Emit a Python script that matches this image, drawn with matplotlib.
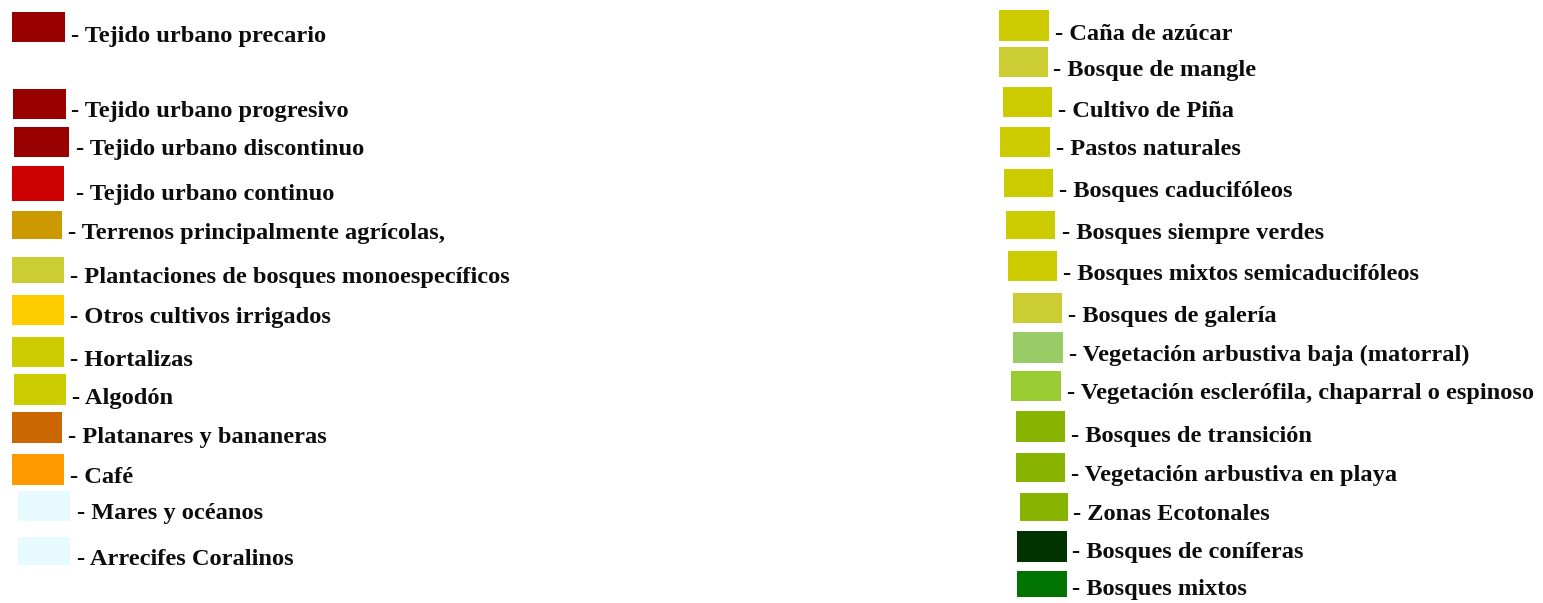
import matplotlib
matplotlib.use("Agg")
import matplotlib.pyplot as plt
from matplotlib.patches import Rectangle

# ---- data ----
left_labels = [
    "Tejido urbano precario", "Tejido urbano progresivo", "Tejido urbano discontinuo",
    "Tejido urbano continuo", "Terrenos principalmente agrícolas,",
    "Plantaciones de bosques monoespecíficos", "Otros cultivos irrigados", "Hortalizas",
    "Algodón", "Platanares y bananeras", "Café", "Mares y océanos", "Arrecifes Coralinos",
]
left_colors = [
    "#990000", "#990000", "#990000", "#CC0000", "#CC9900", "#CCCC33", "#FFCC00",
    "#CCCC00", "#CCCC00", "#CC6600", "#FF9900", "#E6FAFF", "#E6FAFF",
]
right_labels = [
    "Caña de azúcar", "Bosque de mangle", "Cultivo de Piña", "Pastos naturales",
    "Bosques caducifóleos", "Bosques siempre verdes", "Bosques mixtos semicaducifóleos",
    "Bosques de galería", "Vegetación arbustiva baja (matorral)",
    "Vegetación esclerófila, chaparral o espinoso", "Bosques de transición",
    "Vegetación arbustiva en playa", "Zonas Ecotonales", "Bosques de coníferas",
    "Bosques mixtos",
]
right_colors = [
    "#CCCC00", "#CCCC33", "#CCCC00", "#CCCC00", "#CCCC00", "#CCCC00", "#CCCC00",
    "#CCCC33", "#99CC66", "#99CC33", "#88B300", "#88B300", "#88B300", "#003300",
    "#007300",
]

# ---- layout (pixels) ----
left_sw = [  # x0, y0, x1, y1
    (12, 12, 65, 42), (13, 89, 66, 119), (14, 127, 69, 157), (12, 166, 64, 201),
    (12, 211, 62, 239), (12, 257, 64, 283), (12, 295, 64, 325), (12, 337, 64, 367),
    (14, 374, 66, 405), (12, 412, 62, 443), (12, 454, 64, 485), (18, 491, 70, 521),
    (18, 537, 70, 565),
]
left_txt = [  # x, baseline
    (71, 42), (71, 117), (76, 155), (76, 200), (68, 239), (70, 283), (70, 323),
    (70, 366), (72, 404), (68, 443), (70, 483), (77, 519), (77, 565),
]
right_sw = [
    (999, 10, 1049, 41), (999, 47, 1048, 77), (1003, 87, 1052, 117), (1000, 127, 1050, 157),
    (1004, 169, 1053, 197), (1006, 211, 1055, 239), (1008, 251, 1057, 281),
    (1013, 293, 1062, 323), (1013, 332, 1063, 363), (1011, 371, 1061, 401),
    (1016, 411, 1065, 442), (1016, 453, 1065, 482), (1020, 493, 1068, 521),
    (1017, 531, 1067, 562), (1017, 571, 1067, 597),
]
right_txt = [
    (1055, 40), (1053, 76), (1058, 117), (1056, 155), (1059, 197), (1062, 239),
    (1063, 280), (1068, 322), (1069, 361), (1067, 399), (1071, 442), (1071, 481),
    (1073, 520), (1072, 558), (1072, 595),
]

W, H = 1543, 603
fig = plt.figure(figsize=(W / 100, H / 100), dpi=100)
ax = fig.add_axes([0, 0, 1, 1])
ax.set_xlim(0, W)
ax.set_ylim(H, 0)
ax.axis("off")

FONT = dict(family="Liberation Serif", fontweight="bold", fontsize=17.6,
            color="#0d0d0d", va="baseline", ha="left")

for labels, colors, sws, txts in ((left_labels, left_colors, left_sw, left_txt),
                                  (right_labels, right_colors, right_sw, right_txt)):
    for lab, col, (x0, y0, x1, y1), (tx, ty) in zip(labels, colors, sws, txts):
        ax.add_patch(Rectangle((x0, y0), x1 - x0, y1 - y0, facecolor=col,
                               edgecolor="none"))
        ax.text(tx, ty, "- " + lab, **FONT)

fig.savefig("out.png", dpi=100)
